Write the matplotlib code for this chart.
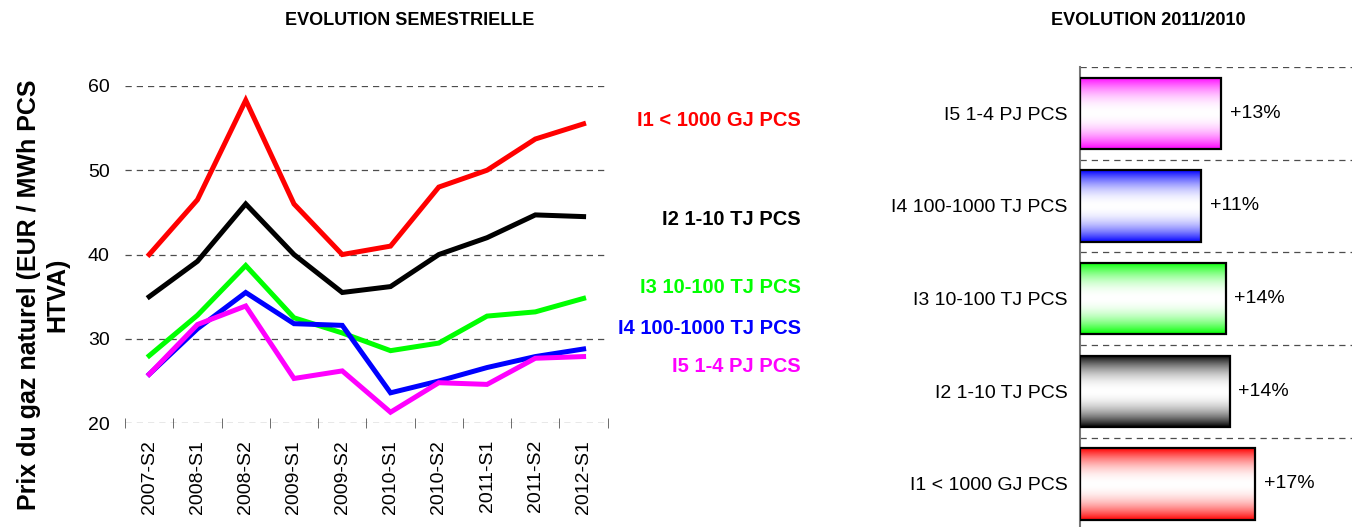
import numpy as np
import matplotlib
matplotlib.use("Agg")
import matplotlib.pyplot as plt
from matplotlib.colors import to_rgb

plt.rcParams.update({
    "font.family": ["Liberation Sans", "DejaVu Sans"],
    "font.size": 14,
})

periods = ["2007-S2", "2008-S1", "2008-S2", "2009-S1", "2009-S2",
           "2010-S1", "2010-S2", "2011-S1", "2011-S2", "2012-S1"]
i1 = [40.0, 46.5, 58.3, 46.0, 40.0, 41.0, 48.0, 50.0, 53.7, 55.5]
i2 = [35.0, 39.2, 46.0, 40.0, 35.5, 36.2, 40.0, 42.0, 44.7, 44.5]
i3 = [28.0, 32.8, 38.7, 32.5, 30.7, 28.6, 29.5, 32.7, 33.2, 34.8]
i4 = [25.8, 31.2, 35.5, 31.8, 31.6, 23.6, 25.0, 26.6, 27.9, 28.8]
i5 = [25.8, 31.7, 33.9, 25.3, 26.2, 21.3, 24.8, 24.6, 27.7, 27.9]

series_names = ["I1 < 1000 GJ PCS", "I2 1-10 TJ PCS", "I3 10-100 TJ PCS",
                "I4 100-1000 TJ PCS", "I5 1-4 PJ PCS"]
series_colors = ["#ff0000", "#000000", "#00ff00", "#0000ff", "#ff00ff"]
label_y = [55.9, 44.1, 36.1, 31.2, 26.7]

# evolution 2011/2010, bottom to top
bar_names = ["I1 < 1000 GJ PCS", "I2 1-10 TJ PCS", "I3 10-100 TJ PCS",
             "I4 100-1000 TJ PCS", "I5 1-4 PJ PCS"]
bar_values = [16.5, 14.1, 13.7, 11.4, 13.3]
bar_labels = ["+17%", "+14%", "+14%", "+11%", "+13%"]
bar_colors = ["#ff0000", "#000000", "#00ff00", "#0000ff", "#ff00ff"]

fig = plt.figure(figsize=(13.52, 5.27), dpi=100)

# ---- left: line chart
ax = fig.add_axes([0.0925, 0.197, 0.357, 0.64])
x = np.arange(len(periods))
for vals, col in zip([i1, i2, i3, i4, i5], series_colors):
    ax.plot(x, vals, color=col, lw=3.6, solid_joinstyle="miter")
ax.set_xlim(-0.5, len(periods) - 0.5)
ax.set_ylim(20, 60)
ax.set_yticks([20, 30, 40, 50, 60])
for yv in [20, 30, 40, 50, 60]:
    ax.axhline(yv, color="#4d4d4d", lw=0.9, ls=(0, (5, 4)), zorder=0)
for s in ax.spines.values():
    s.set_visible(False)
ax.set_xticks(x)
ax.set_xticklabels(periods, rotation=90, fontsize=14)
ax.set_xticks(np.arange(-0.5, len(periods)), minor=True)
ax.tick_params(axis="x", which="major", length=0, pad=12)
ax.tick_params(axis="x", which="minor", length=7, color="#555555", direction="inout")
ax.tick_params(axis="y", length=0, pad=11, labelsize=14)
ax.set_ylabel("Prix du gaz naturel (EUR / MWh PCS\nHTVA)", fontweight="bold",
              fontsize=18)
ax.yaxis.set_label_coords(-0.116, 0.38)

for name, col, ly in zip(series_names, series_colors, label_y):
    ax.text(1.4, ly, name, transform=ax.get_yaxis_transform(), color=col,
            fontweight="bold", fontsize=14.5, ha="right", va="center", clip_on=False)

fig.text(0.303, 0.962, "EVOLUTION SEMESTRIELLE", fontweight="bold",
         fontsize=13, ha="center", va="center")

# ---- right: gradient bars
ax2 = fig.add_axes([0.799, -0.006, 0.23, 0.879])
yb = np.arange(len(bar_names))
bars = ax2.barh(yb, bar_values, height=0.77, facecolor="none",
                edgecolor="black", lw=1.6, zorder=3)
t = np.abs(np.linspace(-1, 1, 256)) ** 2.0
for b, col in zip(bars, bar_colors):
    rgb = np.array(to_rgb(col))
    grad = (1 - t[:, None]) * np.ones(3) + t[:, None] * rgb
    grad = np.clip(grad, 0, 1)[:, None, :]
    x0, y0 = b.get_x(), b.get_y()
    ax2.imshow(grad, extent=(x0, x0 + b.get_width(), y0, y0 + b.get_height()),
               aspect="auto", interpolation="bilinear", zorder=2)
for b, lab in zip(bars, bar_labels):
    ax2.text(b.get_width() + 0.8, b.get_y() + b.get_height() / 2, lab,
             fontsize=14, va="center", ha="left")
ax2.set_xlim(0, 29.3)
ax2.set_ylim(-0.5, len(bar_names) - 0.5)
for yv in np.arange(0.5, len(bar_names)):
    ax2.axhline(yv, color="#4d4d4d", lw=0.9, ls=(0, (5, 4)), zorder=0)
ax2.set_yticks(yb)
ax2.set_yticklabels(bar_names, fontsize=14)
ax2.tick_params(axis="y", length=0, pad=9)
ax2.set_xticks([])
for k in ["top", "right", "bottom"]:
    ax2.spines[k].set_visible(False)
ax2.spines["left"].set_color("#777777")
ax2.spines["left"].set_linewidth(1.5)

fig.text(0.849, 0.962, "EVOLUTION 2011/2010", fontweight="bold",
         fontsize=13, ha="center", va="center")

fig.savefig("out.png", dpi=100)
